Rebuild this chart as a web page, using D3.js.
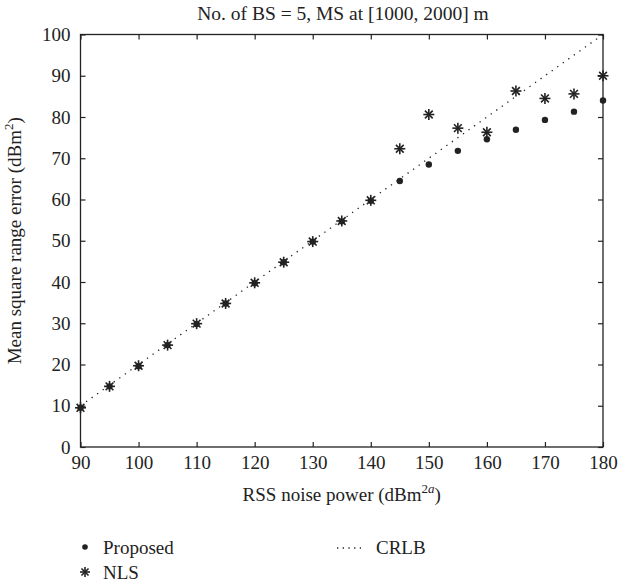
<!DOCTYPE html>
<html><head><meta charset="utf-8">
<script src="https://cdn.jsdelivr.net/npm/d3@7"></script>
<style>
body{margin:0;background:#fff;}
svg text{font-family:"Liberation Serif","DejaVu Serif",serif;fill:#222;}
</style></head>
<body><svg id="c" width="619" height="588"></svg>
<script>
const xValues = [90,95,100,105,110,115,120,125,130,135,140,145,150,155,160,165,170,175,180];
const proposed = [9.5,14.7,19.6,24.7,29.8,34.8,39.7,44.8,49.8,54.7,59.7,64.5,68.5,71.8,74.6,76.9,79.3,81.3,84.0];
const nls = [9.5,14.7,19.7,24.7,29.9,34.8,39.8,44.8,49.8,54.8,59.8,72.3,80.6,77.3,76.3,86.3,84.5,85.6,90.0];
const crlb = [10,15,20,25,30,35,40,45,50,55,60,65,70,75,80,85,90,95,100];
const xTicks = [90,100,110,120,130,140,150,160,170,180];
const yTicks = [0,10,20,30,40,50,60,70,80,90,100];
const titleText = "No. of BS = 5, MS at [1000, 2000] m";
const legendLabels = ["Proposed","NLS","CRLB"];

const svg = d3.select("#c");
const L=80.5, R=603, T=34.5, B=447;
const x = d3.scaleLinear().domain([90,180]).range([L,R]);
const y = d3.scaleLinear().domain([0,100]).range([B,T]);
const ink="#222";
const fs=19;

// box
svg.append("rect").attr("x",L).attr("y",T).attr("width",R-L).attr("height",B-T)
  .attr("fill","none").attr("stroke",ink).attr("stroke-width",1.3);

// axes with inward ticks
const gx = svg.append("g").attr("transform",`translate(0,${B})`)
  .call(d3.axisBottom(x).tickValues(xTicks).tickSizeInner(-5).tickSizeOuter(0).tickPadding(9));
const gy = svg.append("g").attr("transform",`translate(${L},0)`)
  .call(d3.axisLeft(y).tickValues(yTicks).tickSizeInner(-5).tickSizeOuter(0).tickPadding(10));
const gt = svg.append("g").attr("transform",`translate(0,${T})`)
  .call(d3.axisTop(x).tickValues(xTicks).tickSizeInner(-5).tickSizeOuter(0).tickFormat(""));
const gr = svg.append("g").attr("transform",`translate(${R},0)`)
  .call(d3.axisRight(y).tickValues(yTicks).tickSizeInner(-5).tickSizeOuter(0).tickFormat(""));
[gx,gy,gt,gr].forEach(g=>{
  g.select(".domain").remove();
  g.selectAll("line").attr("stroke",ink).attr("stroke-width",1.2);
  g.selectAll("text").attr("font-size",fs).attr("font-family","Liberation Serif").attr("fill",ink);
});

// CRLB dotted
svg.append("path").datum(xValues.map((v,i)=>[v,crlb[i]]))
  .attr("d",d3.line().x(d=>x(d[0])).y(d=>y(d[1])))
  .attr("fill","none").attr("stroke",ink).attr("stroke-width",1.3)
  .attr("stroke-dasharray","1.3,5.5");

// star symbol
function star(g,cx,cy,r){
  const s=g.append("g").attr("transform",`translate(${cx},${cy})`);
  for(let k=0;k<4;k++){
    const a=k*Math.PI/4;
    s.append("line").attr("x1",-r*Math.cos(a)).attr("y1",-r*Math.sin(a))
     .attr("x2",r*Math.cos(a)).attr("y2",r*Math.sin(a))
     .attr("stroke",ink).attr("stroke-width",1.6);
  }
}
const gs = svg.append("g");
xValues.forEach((v,i)=>star(gs,x(v),y(nls[i]),5.5));
svg.append("g").selectAll("circle").data(xValues).join("circle")
  .attr("cx",d=>x(d)).attr("cy",(d,i)=>y(proposed[i])).attr("r",3.2).attr("fill",ink);

// title
svg.append("text").attr("x",343).attr("y",20).attr("text-anchor","middle")
  .attr("font-size",19.5).text(titleText);

// x label
const xl = svg.append("text").attr("x",(L+R)/2).attr("y",501).attr("text-anchor","middle").attr("font-size",fs);
xl.append("tspan").text("RSS noise power (dBm");
xl.append("tspan").attr("dy",-8).attr("font-size",13).text("2");
xl.append("tspan").attr("font-size",13).attr("font-style","italic").text("a");
xl.append("tspan").attr("dy",8).text(")");

// y label
const yl = svg.append("text").attr("transform",`translate(21,${(T+B)/2}) rotate(-90)`)
  .attr("text-anchor","middle").attr("font-size",fs);
yl.append("tspan").text("Mean square range error (dBm");
yl.append("tspan").attr("dy",-8).attr("font-size",13).text("2");
yl.append("tspan").attr("dy",8).text(")");

// legend
const ly1=547, ly2=572;
svg.append("circle").attr("cx",85).attr("cy",ly1).attr("r",2.8).attr("fill",ink);
svg.append("text").attr("x",103).attr("y",ly1+6.5).attr("font-size",fs).text(legendLabels[0]);
star(svg,85,ly2,5);
svg.append("text").attr("x",103).attr("y",ly2+6.5).attr("font-size",fs).text(legendLabels[1]);
svg.append("line").attr("x1",337).attr("x2",361).attr("y1",ly1+1).attr("y2",ly1+1)
  .attr("stroke",ink).attr("stroke-width",1.3).attr("stroke-dasharray","1.3,4.4");
svg.append("text").attr("x",376).attr("y",ly1+6.5).attr("font-size",fs).text(legendLabels[2]);
</script></body></html>
